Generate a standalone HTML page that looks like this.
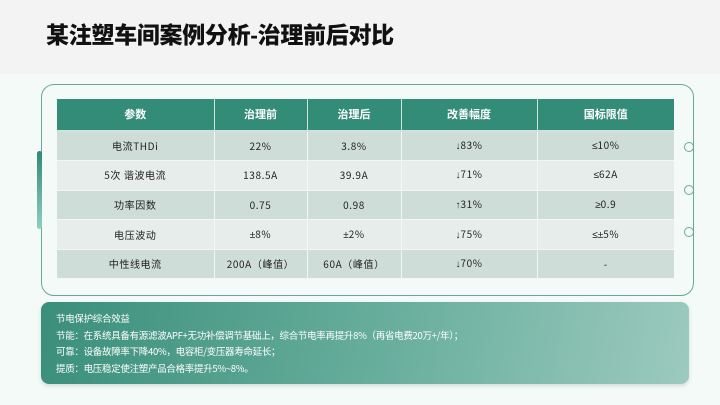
<!DOCTYPE html>
<html><head><meta charset="utf-8"><style>
*{margin:0;padding:0;box-sizing:border-box}
body{width:720px;height:405px;background:#f3faf8;font-family:"Liberation Sans","Noto Sans CJK SC",sans-serif;position:relative;overflow:hidden}
.hdr{position:absolute;left:0;top:0;width:720px;height:74px;background:#f3f3f3}
.hdr h1{position:absolute;left:46px;top:16px;font-size:23px;font-weight:900;color:#111;letter-spacing:-0.3px}
.panel{position:absolute;left:41px;top:84px;width:653px;height:212px;border:1px solid #6aa99a;border-radius:13px}
.bar{position:absolute;left:37px;top:151px;width:5px;height:78px;border-radius:3px;background:linear-gradient(#2f8a72,#8fd0bd)}
.dot{position:absolute;left:684px;width:10px;height:10px;border:1px solid #6aa99a;border-radius:50%;background:#f3faf8}
table{position:absolute;left:57px;top:99px;width:617px;border-collapse:collapse;font-size:10px;color:#222;text-align:center;font-family:"Noto Sans CJK SC",sans-serif}
th{background:#338c78;color:#fff;font-weight:bold;height:32px;border-right:1px solid #cfe3dd;border-bottom:2px solid #cfe3dd;font-size:11px;line-height:1}
td{height:29.6px;border-right:1px solid #f2f7f5;border-bottom:1px solid #f2f7f5;letter-spacing:0.6px;line-height:1;vertical-align:middle}
.s{font-family:"Liberation Sans","DejaVu Sans",sans-serif;letter-spacing:0}
th:last-child,td:last-child{border-right:none}
tr:nth-child(even) td{background:#cfddd8}
tr:nth-child(odd) td{background:#e6edeb}
.box{position:absolute;left:41px;top:302px;width:648px;height:82px;border-radius:8px;background:linear-gradient(100deg,#3a8f7a 0%,#6aaf9e 55%,#9ccabe 100%);box-shadow:0 2px 4px rgba(0,0,0,.12);color:#fff;font-size:9.5px;line-height:16.5px;padding:8px 0 0 15px;font-family:"Noto Sans CJK SC",sans-serif;letter-spacing:-0.3px}
</style></head><body>
<div class="hdr"><h1>某注塑车间案例分析-治理前后对比</h1></div>
<div class="panel"></div>
<div class="bar"></div>
<div class="dot" style="top:142px"></div>
<div class="dot" style="top:185px"></div>
<div class="dot" style="top:227px"></div>
<table>
<tr><th style="width:157px">参数</th><th style="width:93px">治理前</th><th style="width:94px">治理后</th><th style="width:136px">改善幅度</th><th>国标限值</th></tr>
<tr><td>电流THDi</td><td>22%</td><td>3.8%</td><td><span class="s">↓</span>83%</td><td><span class="s">≤</span>10%</td></tr>
<tr><td>5次 谐波电流</td><td>138.5A</td><td>39.9A</td><td><span class="s">↓</span>71%</td><td><span class="s">≤</span>62A</td></tr>
<tr><td>功率因数</td><td>0.75</td><td>0.98</td><td><span class="s">↑</span>31%</td><td><span class="s">≥</span>0.9</td></tr>
<tr><td>电压波动</td><td><span class="s">±</span>8%</td><td><span class="s">±</span>2%</td><td><span class="s">↓</span>75%</td><td><span class="s">≤±</span>5%</td></tr>
<tr><td>中性线电流</td><td>200A（峰值）</td><td>60A（峰值）</td><td><span class="s">↓</span>70%</td><td>-</td></tr>
</table>
<div class="box">节电保护综合效益<br>节能：在系统具备有源滤波APF+无功补偿调节基础上，综合节电率再提升8%（再省电费20万+/年）；<br>可靠：设备故障率下降40%，电容柜/变压器寿命延长；<br>提质：电压稳定使注塑产品合格率提升5%~8%。</div>
</body></html>
